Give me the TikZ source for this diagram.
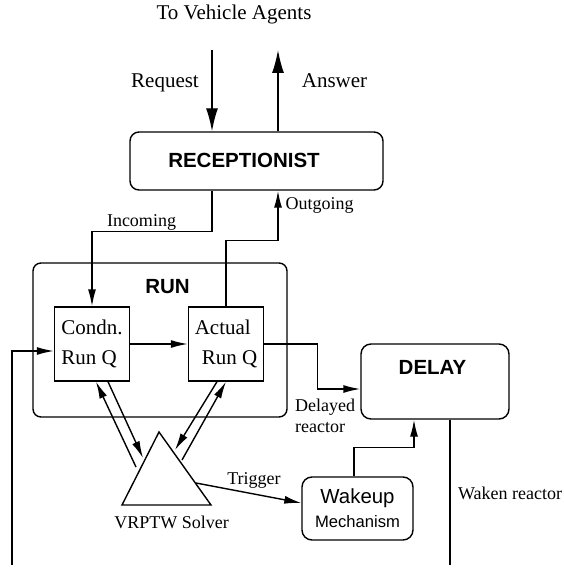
\documentclass[tikz,border=0pt]{standalone}
\usepackage{fontspec}
\setmainfont{Liberation Serif}
\newfontfamily\helv{Liberation Sans}
\usetikzlibrary{arrows.meta, positioning, calc}
\tikzset{
  box/.style={
    rectangle, draw=black, line width=1.4pt, inner sep=0pt
  },
  roundbox/.style={box, rounded corners=9pt},
  qbox/.style={
    box, minimum width=75pt, minimum height=74pt, align=left,
    font=\fontsize{21}{30}\selectfont
  },
  headlbl/.style={font=\helv\bfseries\fontsize{20.5}{24}\selectfont, inner sep=0pt, anchor=base},
  lbl/.style={font=\fontsize{18}{21}\selectfont, inner sep=0pt, anchor=base},
  biglbl/.style={font=\fontsize{21}{24}\selectfont, inner sep=0pt, anchor=base},
  arrow/.style={-{Latex[length=17pt,width=8pt]}, line width=1.4pt},
  bigarrow/.style={-{Latex[length=23pt,width=12pt]}, line width=1.4pt},
  plainline/.style={line width=1.4pt}
}

\begin{document}
\begin{tikzpicture}[x=1pt, y=-1pt]
\useasboundingbox (0,0) rectangle (563,569);

% receptionist and its outside links
\node[biglbl] (agents) at (234,19.5) {To Vehicle Agents};
\node[roundbox, minimum width=253pt, minimum height=58pt] (recep) at (256.5,161) {};
\node[headlbl] (receplbl) at (244,168) {RECEPTIONIST};
\coordinate (req) at (212,50);
\coordinate (ans) at (278,50);
\node[biglbl] (reqlbl) at (165,88) {Request};
\node[biglbl] (anslbl) at (334.5,88) {Answer};

% run queues
\node[roundbox, rounded corners=8pt, minimum width=254pt, minimum height=154pt] (run) at (160,340) {};
\node[headlbl] (runlbl) at (167.5,293) {RUN};
\node[qbox] (condn)  at (92,344)  {Condn.\\Run Q};
\node[qbox] (actual) at (226,344) {Actual\\\hspace*{7pt}Run Q};

% delay and wakeup
\node[roundbox, rounded corners=10pt, minimum width=148pt, minimum height=75pt] (delay) at (435,381.5) {};
\node[headlbl] (delaylbl) at (432.5,374) {DELAY};
\node[roundbox, rounded corners=10pt, minimum width=111pt, minimum height=63pt, align=center, font=\helv] (wakeup) at (357.5,508.5)
  {{\fontsize{20.4}{24}\selectfont Wakeup}\\[7pt]{\fontsize{16.6}{20}\selectfont Mechanism}};

% solver
\coordinate (apex) at (159,432);
\coordinate (basel) at (122,505);
\coordinate (baser) at (211,505);
\draw[plainline] (apex) -- (basel) -- (baser) -- cycle;
\node[lbl] (solverlbl) at (171.5,528) {VRPTW Solver};
\coordinate (sl1) at (136,467);
\coordinate (sl2) at (143,458);
\coordinate (sr1) at (175,450);
\coordinate (sr2) at (182,460);
\coordinate (trg) at (196,483);

% loop ends
\coordinate (fb) at (12,565);
\coordinate (wk) at (450,565);

% arrows
\draw[bigarrow] (req) -- (req |- recep.north);
\draw[bigarrow] (ans |- recep.north) -- (ans);
\draw[arrow] (req |- recep.south) -- ++(0,41) -| (condn.north);
\node[lbl] (inclbl) at (141.5,226) {Incoming};
\draw[arrow] (actual.north) -- ++(0,-66) -| (ans |- recep.south);
\node[lbl] (outlbl) at (319.5,209) {Outgoing};
\draw[arrow] (condn) -- (actual);
\draw[arrow] (fb) |- ([yshift=-7pt]condn.west);
\draw[arrow] (actual.east) -- ++(53,0) |- ([yshift=-7.5pt]delay.west);
\node[lbl, anchor=base west, align=left] (dlylbl) at (295,432) {Delayed\\reactor};
\draw[arrow] ([xshift=-3.5pt]wakeup.north) -- ++(0,-29) -| ([xshift=-21pt]delay.south);
\draw[plainline] ([xshift=15pt]delay.south) -- (wk);
\node[lbl] (wklbl) at (510,499) {Waken reactor};
\draw[arrow] (trg) -- ([yshift=5.5pt]wakeup.west);
\node[lbl] (trglbl) at (254,484) {Trigger};

% solver links
\draw[arrow] (sl1) -- ([xshift=4pt]condn.south);
\draw[arrow] ([xshift=16pt]condn.south) -- (sl2);
\draw[arrow] ([xshift=-9pt]actual.south) -- (sr1);
\draw[arrow] (sr2) -- (actual.south);

\end{tikzpicture}
\end{document}
